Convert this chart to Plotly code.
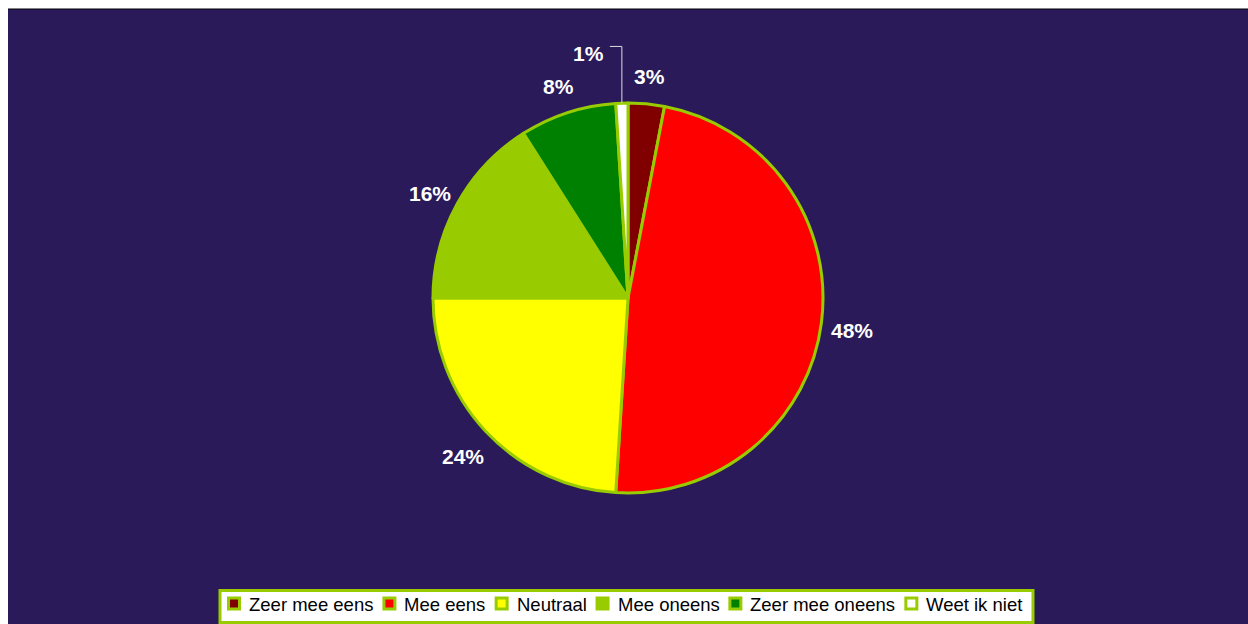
import math
import plotly.graph_objects as go

# Survey answers and their share of respondents (%)
categories = ["Zeer mee eens", "Mee eens", "Neutraal", "Mee oneens", "Zeer mee oneens", "Weet ik niet"]
shares = [3, 48, 24, 16, 8, 1]
slice_colors = ["#800000", "#FF0000", "#FFFF00", "#99CC00", "#008000", "#FFFFFF"]

W, H = 1248, 624
BG = "#2A1A5A"
EDGE = "#99CC00"
FONT = "Liberation Sans, Arial, sans-serif"

# pie placement in pixels
cx, cy, r = 628, 298, 195


def px(x):
    return x / W


def py(y):
    return (H - y) / H


fig = go.Figure(
    go.Pie(
        labels=categories,
        values=shares,
        sort=False,
        direction="clockwise",
        rotation=0,
        marker=dict(colors=slice_colors, line=dict(color=EDGE, width=3)),
        textinfo="none",
        hoverinfo="label+percent",
        showlegend=False,
        domain=dict(x=[px(cx - r), px(cx + r)], y=[py(cy + r), py(cy - r)]),
    )
)

shapes = [
    dict(type="rect", xref="paper", yref="paper", layer="below",
         x0=px(8), x1=1.0, y0=0.0, y1=py(9), fillcolor=BG, line=dict(width=0)),
    dict(type="line", xref="paper", yref="paper", layer="below",
         x0=px(8), x1=1.0, y0=py(9), y1=py(9), line=dict(color="#000000", width=1)),
]
annotations = []

# percentage labels outside the slices, at the mid-angle of each slice
total = sum(shares)
cum = 0.0
label_font = dict(family=FONT, size=21, color="white")
for i, v in enumerate(shares):
    mid = (cum + v / 2) / total * 2 * math.pi
    cum += v
    text = f"{round(v / total * 100)}%"
    if v / total < 0.02:
        # too small to label in place: lift the label above the pie with a leader line
        ex = cx + r * math.sin(mid)
        ey = cy - r * math.cos(mid)
        top = cy - 1.29 * r
        shapes.append(dict(type="path", xref="paper", yref="paper",
                           path=f"M {px(ex)},{py(ey)} L {px(ex)},{py(top)} L {px(ex - 12)},{py(top)}",
                           line=dict(color="#DDDDDD", width=1)))
        annotations.append(dict(x=px(ex - 16), y=py(top + 7), xref="paper", yref="paper",
                                text=f"<b>{text}</b>", showarrow=False, xanchor="right",
                                yanchor="middle", font=label_font))
    else:
        d = 1.16 * r
        lx = cx + d * math.sin(mid)
        ly = cy - d * math.cos(mid) + 4
        annotations.append(dict(x=px(lx), y=py(ly), xref="paper", yref="paper",
                                text=f"<b>{text}</b>", showarrow=False, xanchor="center",
                                yanchor="middle", font=label_font))

# legend box laid out from Arial/Liberation Sans advance widths
char_w = {"Z": .611, "e": .556, "r": .333, " ": .278, "m": .833, "M": .833, "n": .556,
          "s": .5, "N": .722, "u": .556, "t": .278, "a": .556, "l": .222, "o": .556,
          "W": .944, "i": .222, "k": .5}
leg_size = 18.5
sym, sym_gap, item_gap, pad_l, pad_r = 14, 6, 11, 7, 12
text_w = [sum(char_w.get(c, .556) for c in s) * leg_size for s in categories]
content = sum(sym + sym_gap + w for w in text_w) + item_gap * (len(categories) - 1)
box_w = pad_l + content + pad_r
bx0 = 626.5 - box_w / 2
by0, by1 = 590.5, 622.5
ymid = 603.5
shapes.append(dict(type="rect", xref="paper", yref="paper",
                   x0=px(bx0), x1=px(bx0 + box_w), y0=py(by1), y1=py(by0),
                   fillcolor="white", line=dict(color=EDGE, width=3)))
x = bx0 + pad_l
for name, col, w in zip(categories, slice_colors, text_w):
    shapes.append(dict(type="rect", xref="paper", yref="paper",
                       x0=px(x + 1.5), x1=px(x + sym - 1.5),
                       y0=py(ymid + sym / 2 - 1.5), y1=py(ymid - sym / 2 + 1.5),
                       fillcolor=col, line=dict(color=EDGE, width=3)))
    annotations.append(dict(x=px(x + sym + sym_gap), y=py(ymid + 1), xref="paper", yref="paper",
                            text=name, showarrow=False, xanchor="left", yanchor="middle",
                            font=dict(family=FONT, size=leg_size, color="black")))
    x += sym + sym_gap + w + item_gap

fig.update_layout(
    width=W,
    height=H,
    margin=dict(l=0, r=0, t=0, b=0),
    paper_bgcolor="white",
    shapes=shapes,
    annotations=annotations,
    showlegend=False,
)

fig.write_html("out.html")
